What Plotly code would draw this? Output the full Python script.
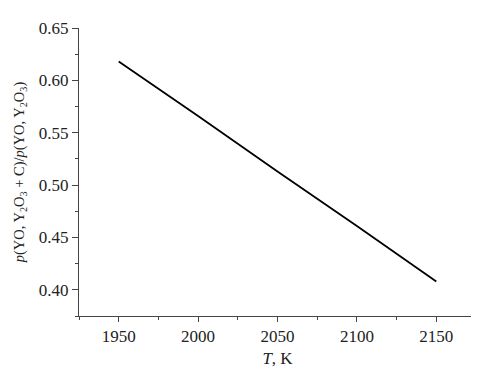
import plotly.graph_objects as go

temps = [1950, 2000, 2050, 2100, 2150]
ratio = [0.618, 0.566, 0.513, 0.461, 0.408]

fig = go.Figure()
fig.add_trace(go.Scatter(x=temps, y=ratio, mode="lines",
                         line=dict(color="black", width=1.8), showlegend=False))

font = dict(family="Liberation Serif, Times New Roman, serif", size=17, color="#222")
fig.update_layout(
    width=479, height=370,
    margin=dict(l=71, r=11, t=16, b=62),
    paper_bgcolor="white", plot_bgcolor="white",
    font=font,
    xaxis=dict(range=[1925, 2175], tickvals=[1950, 2000, 2050, 2100, 2150],
               showgrid=False, zeroline=False, showline=True, linecolor="#444", linewidth=1,
               ticks="outside", ticklen=5, tickcolor="#444",
               tickfont=dict(size=17),
               minor=dict(dtick=25, tick0=1925, ticks="outside", ticklen=3, tickcolor="#444"),
               title=dict(text="<i>T</i>, K", standoff=6, font=dict(size=17))),
    yaxis=dict(range=[0.375, 0.65], tickvals=[0.40, 0.45, 0.50, 0.55, 0.60, 0.65],
               tickformat=".2f",
               showgrid=False, zeroline=False, showline=True, linecolor="#444", linewidth=1,
               ticks="outside", ticklen=6, tickcolor="#444",
               tickfont=dict(size=17),
               minor=dict(dtick=0.025, tick0=0.375, ticks="outside", ticklen=3, tickcolor="#444"),
               title=dict(text="<i>p</i>(YO, Y<sub>2</sub>O<sub>3</sub> + C)/<i>p</i>(YO, Y<sub>2</sub>O<sub>3</sub>)",
                          standoff=10, font=dict(size=14.5))),
)
fig.write_html("out.html")
